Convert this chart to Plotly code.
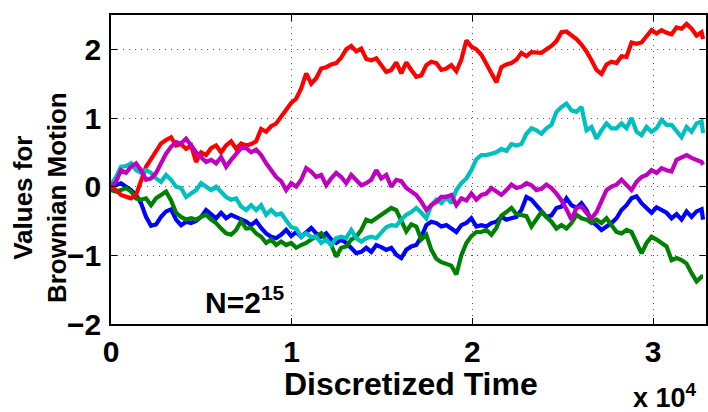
import numpy as np
import plotly.graph_objects as go

# time axis (discrete steps), last point N = 2^15
time = np.append(np.arange(0, 32700, 277), 32768)

blue = [0.0, 0.03, 0.05, 0.0, -0.05, -0.12, -0.24, -0.44, -0.57, -0.55,
        -0.44, -0.36, -0.33, -0.48, -0.56, -0.51, -0.53, -0.5, -0.44, -0.34,
        -0.4, -0.46, -0.38, -0.46, -0.41, -0.44, -0.48, -0.51, -0.56, -0.5,
        -0.6, -0.68, -0.73, -0.75, -0.7, -0.63, -0.72, -0.66, -0.73, -0.66,
        -0.6, -0.68, -0.73, -0.68, -0.77, -0.82, -0.77, -0.82, -0.89, -0.97,
        -0.95, -0.89, -0.95, -0.85, -0.88, -0.92, -0.89, -0.99, -1.04, -0.92,
        -0.87, -0.85, -0.73, -0.56, -0.51, -0.53, -0.58, -0.56, -0.61, -0.66,
        -0.56, -0.53, -0.46, -0.58, -0.56, -0.58, -0.53, -0.51, -0.44, -0.48,
        -0.46, -0.44, -0.34, -0.15, -0.19, -0.27, -0.37, -0.44, -0.42, -0.31,
        -0.29, -0.17, -0.27, -0.31, -0.24, -0.34, -0.51, -0.56, -0.63, -0.58,
        -0.53, -0.46, -0.34, -0.27, -0.17, -0.14, -0.24, -0.31, -0.38, -0.3,
        -0.34, -0.38, -0.46, -0.4, -0.48, -0.36, -0.44, -0.36, -0.33,
        -0.48]

green = [-0.05, -0.07, -0.05, -0.02, -0.07, -0.17, -0.19, -0.17, -0.27, -0.17,
         -0.12, -0.07, -0.2, -0.38, -0.44, -0.48, -0.46, -0.48, -0.44, -0.41,
         -0.48, -0.53, -0.61, -0.68, -0.7, -0.63, -0.5, -0.61, -0.6, -0.68,
         -0.73, -0.82, -0.77, -0.85, -0.8, -0.85, -0.82, -0.89, -0.85, -0.82,
         -0.77, -0.73, -0.68, -0.77, -0.85, -1.02, -0.89, -0.87, -0.77, -0.73,
         -0.63, -0.48, -0.51, -0.46, -0.41, -0.37, -0.31, -0.34, -0.5, -0.65,
         -0.55, -0.58, -0.77, -0.7, -0.92, -1.05, -1.1, -1.13, -1.15, -1.28,
         -1.0, -0.82, -0.72, -0.66, -0.66, -0.63, -0.7, -0.6, -0.42, -0.37,
         -0.31, -0.4, -0.41, -0.43, -0.58, -0.48, -0.37, -0.44, -0.51, -0.61,
         -0.56, -0.61, -0.53, -0.41, -0.46, -0.48, -0.53, -0.48, -0.53, -0.46,
         -0.56, -0.66, -0.68, -0.63, -0.66, -0.8, -0.97, -0.82, -0.73, -0.77,
         -0.82, -0.87, -1.07, -1.04, -1.07, -1.12, -1.26, -1.38, -1.31,
         -1.31]

red = [0.0, -0.05, -0.12, -0.15, -0.17, -0.12, 0.08, 0.29, 0.4, 0.52,
       0.63, 0.68, 0.72, 0.6, 0.62, 0.55, 0.6, 0.36, 0.5, 0.46,
       0.56, 0.6, 0.5, 0.6, 0.66, 0.55, 0.63, 0.6, 0.62, 0.66,
       0.84, 0.8, 0.88, 0.92, 1.02, 1.12, 1.22, 1.28, 1.43, 1.65,
       1.5, 1.58, 1.72, 1.74, 1.78, 1.8, 1.88, 2.0, 2.05, 1.97,
       2.01, 1.86, 1.84, 1.87, 1.77, 1.67, 1.7, 1.81, 1.65, 1.81,
       1.7, 1.6, 1.62, 1.77, 1.82, 1.8, 1.7, 1.72, 1.77, 1.68,
       1.85, 2.13, 2.04, 2.0, 1.92, 1.78, 1.66, 1.52, 1.74, 1.78,
       1.8, 1.85, 1.95, 1.9, 1.96, 1.95, 1.95, 2.0, 2.05, 2.12,
       2.25, 2.26, 2.2, 2.15, 2.07, 1.97, 1.84, 1.7, 1.64, 1.78,
       1.82, 1.8, 1.9, 1.89, 2.1, 2.08, 2.1, 2.18, 2.28, 2.23,
       2.28, 2.24, 2.22, 2.32, 2.3, 2.37, 2.3, 2.2, 2.25,
       2.15]

cyan = [0.03, 0.14, 0.29, 0.3, 0.34, 0.24, 0.2, 0.24, 0.2, 0.12,
        0.07, 0.17, 0.1, 0.0, -0.02, -0.15, -0.1, -0.05, 0.05, 0.0,
        -0.05, 0.0, -0.08, -0.15, -0.19, -0.17, -0.29, -0.34, -0.27, -0.34,
        -0.27, -0.41, -0.34, -0.41, -0.39, -0.48, -0.59, -0.61, -0.73, -0.68,
        -0.73, -0.73, -0.82, -0.77, -0.85, -0.75, -0.73, -0.75, -0.63, -0.75,
        -0.8, -0.75, -0.73, -0.75, -0.68, -0.59, -0.56, -0.57, -0.48, -0.41,
        -0.37, -0.31, -0.38, -0.46, -0.27, -0.19, -0.24, -0.15, -0.24, -0.05,
        0.05, 0.12, 0.24, 0.4, 0.46, 0.46, 0.48, 0.5, 0.55, 0.52,
        0.62, 0.6, 0.62, 0.77, 0.85, 0.82, 0.77, 0.85, 0.9, 1.09,
        1.16, 1.21, 1.11, 1.09, 1.16, 0.82, 0.87, 0.7, 0.82, 0.92,
        0.85, 0.85, 0.92, 0.85, 1.0, 0.8, 0.75, 0.87, 0.8, 0.85,
        0.97, 0.9, 0.9, 0.8, 0.72, 0.87, 0.8, 0.92, 0.95,
        0.78]

magenta = [0.0, 0.07, 0.24, 0.2, 0.29, 0.34, 0.24, 0.1, 0.12, 0.2,
           0.34, 0.48, 0.58, 0.65, 0.63, 0.7, 0.6, 0.5, 0.43, 0.36,
           0.39, 0.34, 0.43, 0.29, 0.39, 0.48, 0.56, 0.56, 0.5, 0.54,
           0.46, 0.34, 0.24, 0.14, 0.08, -0.05, 0.05, 0.0, 0.1, 0.27,
           0.22, 0.14, 0.17, 0.02, 0.12, 0.2, 0.14, 0.05, 0.17, 0.1,
           0.02, 0.05, 0.1, 0.24, 0.12, 0.17, 0.0, 0.1, 0.08, -0.02,
           -0.07, -0.12, -0.22, -0.34, -0.27, -0.22, -0.15, -0.15, -0.12, -0.27,
           -0.17, -0.2, -0.1, -0.19, -0.12, -0.1, -0.02, -0.07, -0.12, -0.05,
           0.03, -0.02, 0.0, 0.05, 0.02, -0.05, -0.03, 0.03, -0.02, -0.1,
           -0.2, -0.33, -0.48, -0.31, -0.29, -0.38, -0.46, -0.37, -0.19, -0.05,
           0.0, 0.03, 0.1, 0.03, -0.05, 0.07, 0.14, 0.17, 0.24, 0.2,
           0.27, 0.24, 0.22, 0.39, 0.43, 0.46, 0.42, 0.39, 0.36,
           0.32]

x_tickvals = [0, 10000, 20000, 30000]
x_ticktext = ["0", "1", "2", "3"]
y_tickvals = [-2, -1, 0, 1, 2]

series = [
    ("blue", blue, "rgb(0,0,255)"),
    ("green", green, "rgb(0,128,0)"),
    ("red", red, "rgb(255,0,0)"),
    ("cyan", cyan, "rgb(0,191,191)"),
    ("magenta", magenta, "rgb(191,0,191)"),
]

FONT = "Liberation Sans, Arial, Helvetica, sans-serif"

fig = go.Figure()
for name, vals, col in series:
    fig.add_trace(go.Scatter(x=time, y=vals, mode="lines", name=name,
                             line=dict(color=col, width=4.2)))

axis_common = dict(
    showline=True, linewidth=1.5, linecolor="black", mirror="ticks",
    ticks="inside", ticklen=6, tickwidth=1, tickcolor="black",
    showgrid=True, gridcolor="#555555", gridwidth=1, griddash="1px,5px",
    zeroline=False, automargin=False,
    tickfont=dict(family=FONT, size=30, color="black", weight="bold"),
)

fig.update_xaxes(range=[0, 32930], tickvals=x_tickvals, ticktext=x_ticktext,
                 ticklabelstandoff=0, **axis_common)
fig.update_yaxes(range=[-2, 2.5], tickvals=y_tickvals,
                 ticklabelstandoff=2, **axis_common)

fig.update_layout(
    width=708, height=412,
    margin=dict(l=111, r=2, t=15, b=88),
    plot_bgcolor="white", paper_bgcolor="white",
    showlegend=False,
    font=dict(family=FONT, color="black"),
    annotations=[
        dict(text="Values for<br>Brownian Motion", textangle=-90,
             xref="paper", yref="paper", x=-0.118, y=0.41,
             xanchor="center", yanchor="middle", showarrow=False,
             font=dict(family=FONT, size=26, color="black", weight="bold")),
        dict(text="Discretized Time", xref="paper", yref="paper",
             x=0.504, y=-0.193, xanchor="center", yanchor="middle",
             showarrow=False,
             font=dict(family=FONT, size=32, color="black", weight="bold")),
        dict(text="x 10<sup>4</sup>", xref="paper", yref="paper",
             x=0.874, y=-0.296, xanchor="left", yanchor="bottom",
             showarrow=False,
             font=dict(family=FONT, size=27, color="black", weight="bold")),
        dict(text="N=2<sup>15</sup>", xref="x", yref="y",
             x=5100, y=-1.96, xanchor="left", yanchor="bottom",
             showarrow=False,
             font=dict(family=FONT, size=30, color="black", weight="bold")),
    ],
)

fig.write_html("out.html",
               config={"displayModeBar": False},
               post_script="document.body.style.margin='0';"
                           "document.body.style.padding='0';")
